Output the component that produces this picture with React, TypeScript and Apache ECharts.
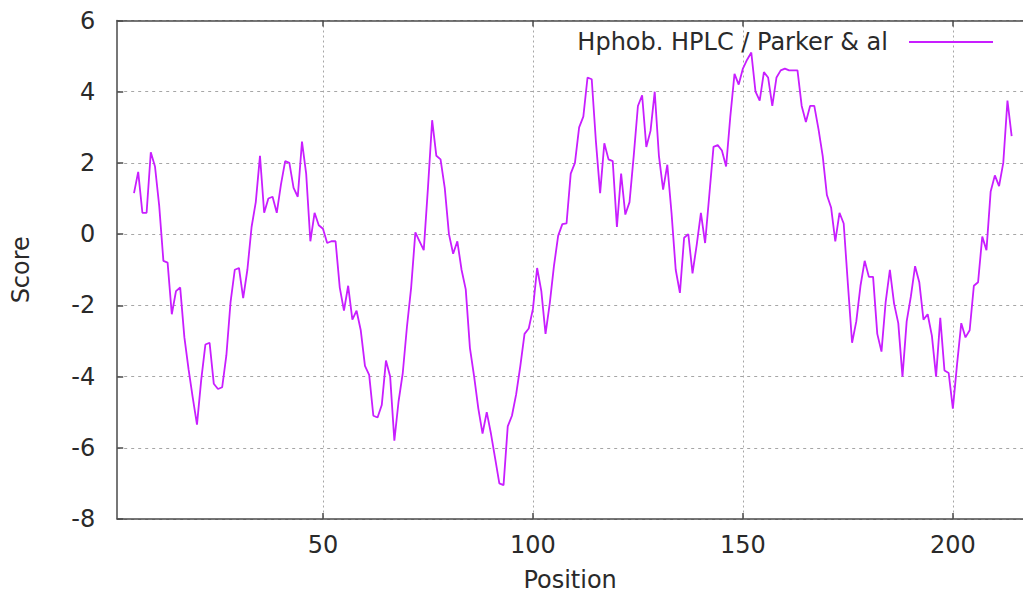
import React, { useEffect, useRef } from "react";
import * as echarts from "echarts";

// Sequence position of the first plotted window centre
const START_POSITION = 5;

// Hydrophobicity (HPLC / Parker & al) scores, positions 5..214
const scores: number[] = [
  1.15, 1.75, 0.6, 0.6, 2.3, 1.9, 0.8, -0.75, -0.8, -2.25,
  -1.6, -1.5, -2.9, -3.8, -4.6, -5.35, -4.1, -3.1, -3.05, -4.2,
  -4.35, -4.3, -3.4, -1.9, -1.0, -0.95, -1.8, -1.0, 0.2, 0.9,
  2.2, 0.6, 1.0, 1.05, 0.6, 1.4, 2.05, 2.0, 1.3, 1.05,
  2.6, 1.7, -0.2, 0.6, 0.25, 0.15, -0.25, -0.2, -0.2, -1.5,
  -2.15, -1.45, -2.4, -2.15, -2.7, -3.7, -3.95, -5.1, -5.15, -4.8,
  -3.55, -4.0, -5.8, -4.7, -3.9, -2.6, -1.5, 0.05, -0.2, -0.45,
  1.3, 3.2, 2.2, 2.1, 1.3, 0.0, -0.55, -0.2, -1.0, -1.55,
  -3.2, -4.0, -4.9, -5.6, -5.0, -5.6, -6.3, -7.0, -7.05, -5.4,
  -5.1, -4.5, -3.7, -2.8, -2.65, -2.1, -0.95, -1.6, -2.8, -1.95,
  -0.9, -0.05, 0.28, 0.3, 1.7, 2.0, 3.0, 3.3, 4.4, 4.35,
  2.6, 1.15, 2.55, 2.1, 2.05, 0.2, 1.7, 0.55, 0.9, 2.2,
  3.6, 3.9, 2.45, 2.9, 4.0, 2.2, 1.25, 1.95, 0.6, -1.0,
  -1.65, -0.1, 0.0, -1.1, -0.3, 0.6, -0.25, 1.1, 2.45, 2.5,
  2.35, 1.9, 3.3, 4.5, 4.2, 4.65, 4.9, 5.1, 4.0, 3.75,
  4.55, 4.4, 3.6, 4.4, 4.6, 4.65, 4.6, 4.6, 4.6, 3.6,
  3.15, 3.6, 3.6, 2.95, 2.2, 1.1, 0.75, -0.2, 0.6, 0.3,
  -1.4, -3.05, -2.45, -1.45, -0.75, -1.2, -1.2, -2.8, -3.3, -1.9,
  -1.0, -1.95, -2.5, -4.0, -2.45, -1.75, -0.9, -1.35, -2.4, -2.25,
  -2.85, -4.0, -2.35, -3.83, -3.9, -4.9, -3.65, -2.5, -2.9, -2.7,
  -1.45, -1.35, -0.07, -0.45, 1.2, 1.65, 1.35, 2.0, 3.75, 2.75,
];

const xTicks: number[] = [50, 100, 150, 200];
const X_MIN = 1;
const X_MAX = 216.7;
const Y_MIN = -8;
const Y_MAX = 6;
const Y_STEP = 2;

const SERIES_NAME = "Hphob. HPLC / Parker & al";
const X_NAME = "Position";
const Y_NAME = "Score";

const FONT = "DejaVu Sans";
const FONT_SIZE = 24;
const TEXT_COLOR = "#2a2a2a";
const LINE_COLOR = "#c81eff";
const BORDER_COLOR = "#4a4a4a";
const GRID_COLOR = "#a6a6a6";

export default function App() {
  const ref = useRef<HTMLDivElement>(null);

  useEffect(() => {
    if (!ref.current) return;
    const chart = echarts.init(ref.current, undefined, { renderer: "svg" });

    const data = scores.map((v, i) => [START_POSITION + i, v]);

    const axisLine = { show: true, onZero: false, lineStyle: { color: BORDER_COLOR, width: 1.5 } };
    const tick = { show: true, inside: true, length: 6, lineStyle: { color: BORDER_COLOR, width: 1.5 } };
    const text = { fontFamily: FONT, fontSize: FONT_SIZE, color: TEXT_COLOR };

    chart.setOption({
      animation: false,
      backgroundColor: "#ffffff",
      textStyle: { fontFamily: FONT },
      grid: {
        left: 117.2,
        top: 20.5,
        right: 0,
        bottom: 75,
        containLabel: false,
        outerBoundsMode: "none",
      },
      legend: {
        show: true,
        right: 25,
        top: 25,
        align: "right",
        icon: "rect",
        itemWidth: 84,
        itemHeight: 1.8,
        itemGap: 0,
        textStyle: { ...text, padding: [0, 16, 0, 0] },
        data: [{ name: SERIES_NAME }],
      },
      xAxis: [
        {
          type: "value",
          position: "bottom",
          min: X_MIN,
          max: X_MAX,
          name: X_NAME,
          nameLocation: "middle",
          nameGap: 49,
          nameTextStyle: text,
          axisLine,
          axisTick: { ...tick, customValues: xTicks },
          axisLabel: { ...text, customValues: xTicks, margin: 14 },
          splitLine: { show: true, lineStyle: { color: GRID_COLOR, type: [2, 3], width: 1 } },
        },
        {
          type: "value",
          position: "top",
          min: X_MIN,
          max: X_MAX,
          axisLine,
          axisTick: { ...tick, customValues: xTicks },
          axisLabel: { show: false },
          splitLine: { show: false },
        },
      ],
      yAxis: [
        {
          type: "value",
          position: "left",
          min: Y_MIN,
          max: Y_MAX,
          interval: Y_STEP,
          name: Y_NAME,
          nameLocation: "middle",
          nameGap: 84,
          nameRotate: 90,
          nameTextStyle: text,
          axisLine,
          axisTick: tick,
          axisLabel: { ...text, margin: 22 },
          splitLine: { show: true, lineStyle: { color: GRID_COLOR, type: [3, 4], width: 1 } },
        },
      ],
      series: [
        {
          name: SERIES_NAME,
          type: "line",
          data,
          xAxisIndex: 0,
          yAxisIndex: 0,
          symbol: "none",
          showSymbol: false,
          lineStyle: { color: LINE_COLOR, width: 1.8 },
          itemStyle: { color: LINE_COLOR },
        },
      ],
    });

    return () => chart.dispose();
  }, []);

  return (
    <div
      ref={ref}
      style={{ position: "fixed", left: 0, top: 0, width: 1023, height: 594, background: "#fff" }}
    />
  );
}
